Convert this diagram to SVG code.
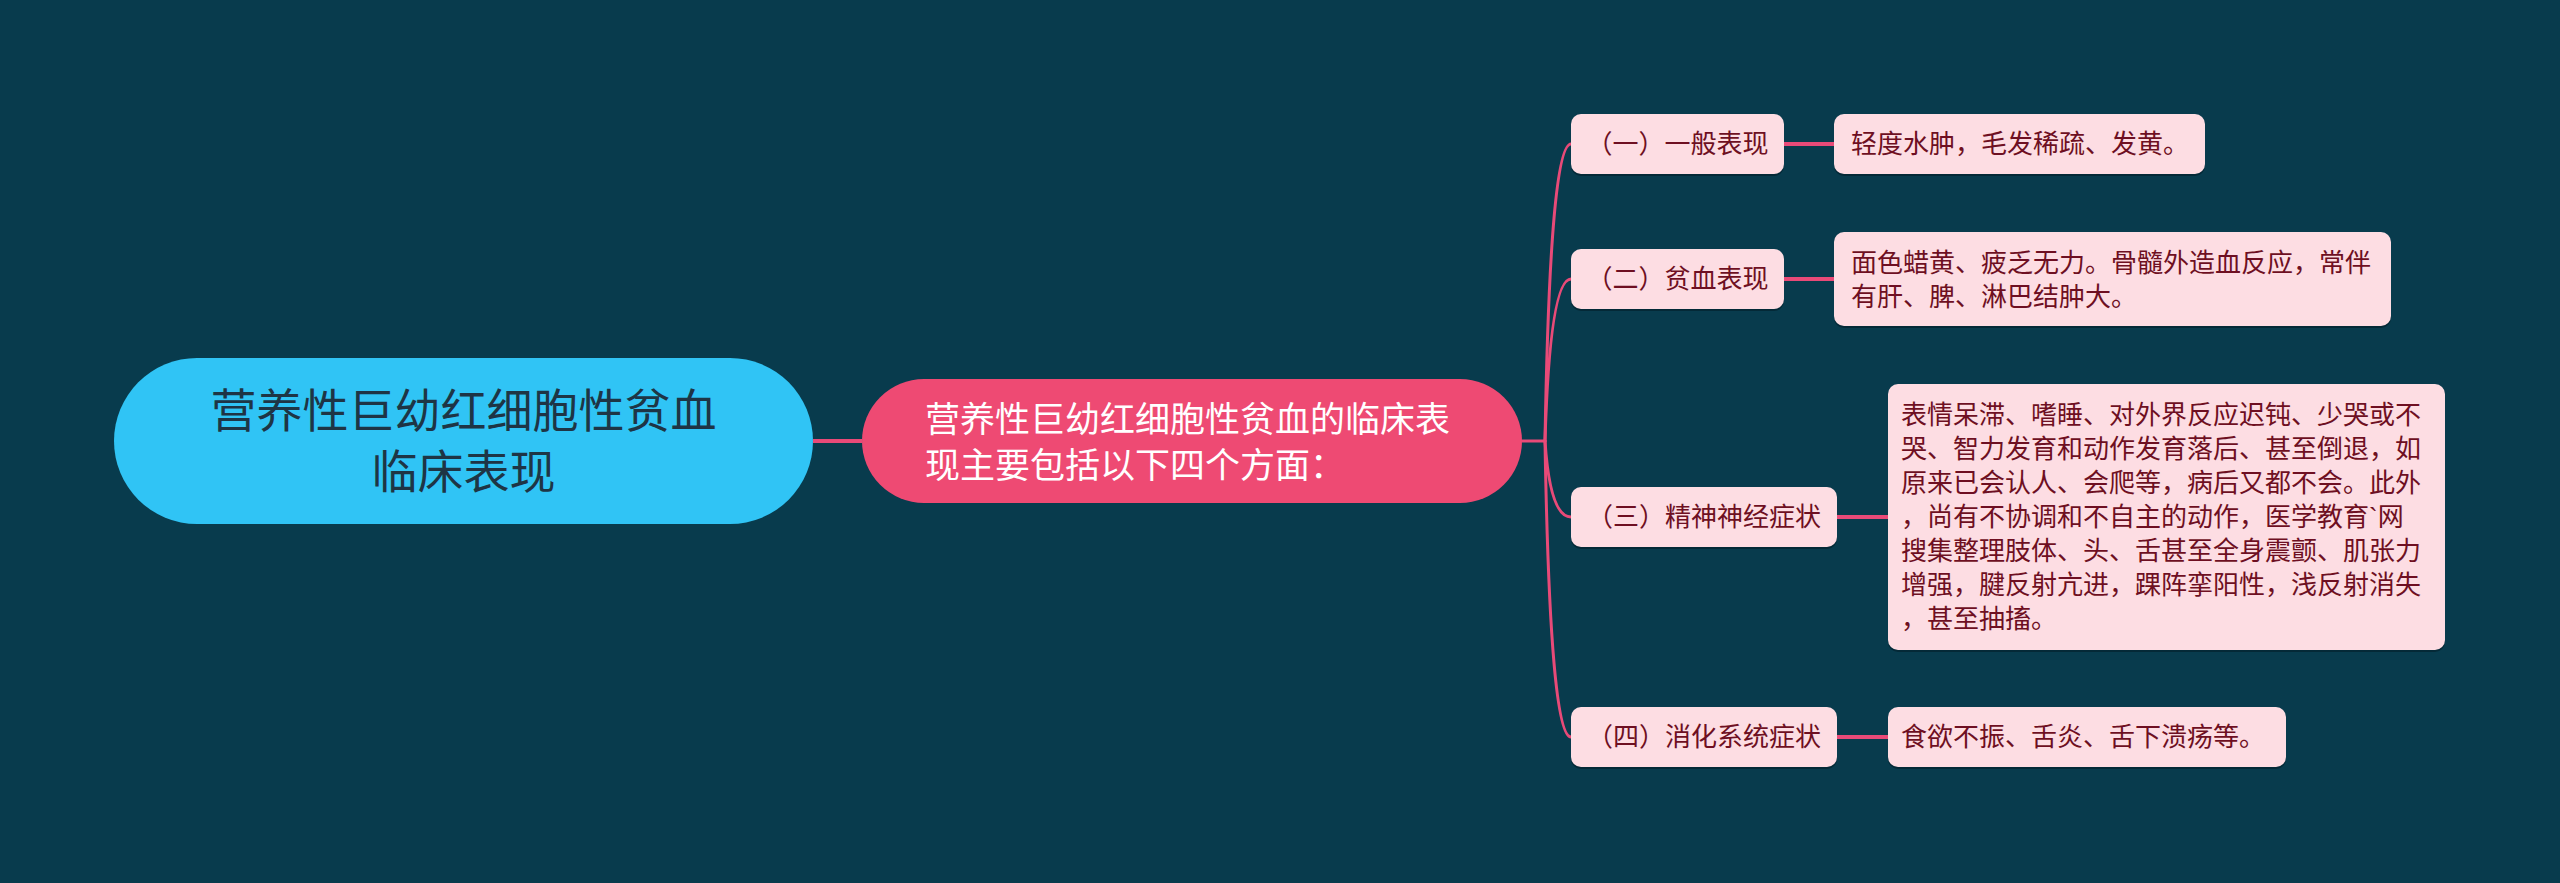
<svg xmlns="http://www.w3.org/2000/svg" width="2560" height="883" viewBox="0 0 2560 883">
<defs>
<style>
.cjk{font-family:"Liberation Sans","Noto Sans CJK SC",sans-serif;}
.root-box{fill:#30C4F5;}
.root-t{font-size:46px;fill:#1E3545;}
.main-box{fill:#EE4A73;}
.main-t{font-size:35px;fill:#FFFFFF;}
.box{fill:#FDDDE3;}
.shadow{fill:#03222E;opacity:0.7;}
.t{font-size:26px;fill:#6E0F22;}
.conn{fill:none;stroke:#E84A78;stroke-width:3;stroke-linecap:round;}
.conn2{fill:none;stroke:#E84A78;stroke-width:4;}
</style>
</defs>
<rect width="2560" height="883" fill="#083B4D"/>
<g id="connectors">
<path class="conn2" d="M813 441 H862"/>
<path class="conn" d="M1522 441 H1545"/>
<path class="conn" d="M1545 441 Q1550 144 1571 144"/>
<path class="conn" d="M1545 441 Q1550 279 1571 279"/>
<path class="conn" d="M1545 441 Q1550 517 1571 517"/>
<path class="conn" d="M1545 441 Q1550 737 1571 737"/>
<path class="conn2" d="M1784 144 H1834"/>
<path class="conn2" d="M1784 279 H1834"/>
<path class="conn2" d="M1837 517 H1888"/>
<path class="conn2" d="M1837 737 H1888"/>
</g>
<g id="root">
<rect class="root-box" x="114" y="358" width="699" height="166" rx="83"/>
<text class="cjk root-t" x="463.5" y="411" text-anchor="middle" dominant-baseline="central">营养性巨幼红细胞性贫血</text>
<text class="cjk root-t" x="463.5" y="472" text-anchor="middle" dominant-baseline="central">临床表现</text>
</g>
<g id="main">
<rect class="main-box" x="862" y="379" width="660" height="124" rx="62"/>
<text class="cjk main-t" x="925" y="419" dominant-baseline="central">营养性巨幼红细胞性贫血的临床表</text>
<text class="cjk main-t" x="925" y="465" dominant-baseline="central">现主要包括以下四个方面：</text>
</g>
<g id="child1">
<rect class="shadow" x="1571" y="116" width="213" height="60" rx="10"/>
<rect class="box" x="1571" y="114" width="213" height="60" rx="10"/>
<text class="cjk t" x="1677.5" y="144" text-anchor="middle" dominant-baseline="central">（一）一般表现</text>
</g>
<g id="leaf1">
<rect class="shadow" x="1834" y="116" width="371" height="60" rx="10"/>
<rect class="box" x="1834" y="114" width="371" height="60" rx="10"/>
<text class="cjk t" x="1851" y="144" dominant-baseline="central">轻度水肿，毛发稀疏、发黄。</text>
</g>
<g id="child2">
<rect class="shadow" x="1571" y="251" width="213" height="60" rx="10"/>
<rect class="box" x="1571" y="249" width="213" height="60" rx="10"/>
<text class="cjk t" x="1677.5" y="279" text-anchor="middle" dominant-baseline="central">（二）贫血表现</text>
</g>
<g id="leaf2">
<rect class="shadow" x="1834" y="234" width="557" height="94" rx="10"/>
<rect class="box" x="1834" y="232" width="557" height="94" rx="10"/>
<text class="cjk t" x="1851" y="263" dominant-baseline="central">面色蜡黄、疲乏无力。骨髓外造血反应，常伴</text>
<text class="cjk t" x="1851" y="297" dominant-baseline="central">有肝、脾、淋巴结肿大。</text>
</g>
<g id="child3">
<rect class="shadow" x="1571" y="489" width="266" height="60" rx="10"/>
<rect class="box" x="1571" y="487" width="266" height="60" rx="10"/>
<text class="cjk t" x="1704" y="517" text-anchor="middle" dominant-baseline="central">（三）精神神经症状</text>
</g>
<g id="leaf3">
<rect class="shadow" x="1888" y="386" width="557" height="266" rx="10"/>
<rect class="box" x="1888" y="384" width="557" height="266" rx="10"/>
<text class="cjk t" x="1901" y="415" dominant-baseline="central">表情呆滞、嗜睡、对外界反应迟钝、少哭或不</text>
<text class="cjk t" x="1901" y="449" dominant-baseline="central">哭、智力发育和动作发育落后、甚至倒退，如</text>
<text class="cjk t" x="1901" y="483" dominant-baseline="central">原来已会认人、会爬等，病后又都不会。此外</text>
<text class="cjk t" x="1901" y="517" dominant-baseline="central">，尚有不协调和不自主的动作，医学教育`网</text>
<text class="cjk t" x="1901" y="551" dominant-baseline="central">搜集整理肢体、头、舌甚至全身震颤、肌张力</text>
<text class="cjk t" x="1901" y="585" dominant-baseline="central">增强，腱反射亢进，踝阵挛阳性，浅反射消失</text>
<text class="cjk t" x="1901" y="619" dominant-baseline="central">，甚至抽搐。</text>
</g>
<g id="child4">
<rect class="shadow" x="1571" y="709" width="266" height="60" rx="10"/>
<rect class="box" x="1571" y="707" width="266" height="60" rx="10"/>
<text class="cjk t" x="1704" y="737" text-anchor="middle" dominant-baseline="central">（四）消化系统症状</text>
</g>
<g id="leaf4">
<rect class="shadow" x="1888" y="709" width="398" height="60" rx="10"/>
<rect class="box" x="1888" y="707" width="398" height="60" rx="10"/>
<text class="cjk t" x="1901" y="737" dominant-baseline="central">食欲不振、舌炎、舌下溃疡等。</text>
</g>
</svg>
